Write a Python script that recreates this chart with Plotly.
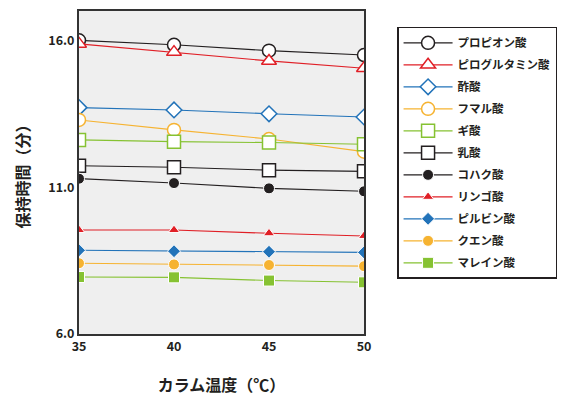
import plotly.graph_objects as go

temps = [35, 40, 45, 50]
names = ["プロピオン酸", "ピログルタミン酸", "酢酸", "フマル酸", "ギ酸", "乳酸",
         "コハク酸", "リンゴ酸", "ピルビン酸", "クエン酸", "マレイン酸"]
propionic = [16.0, 15.85, 15.65, 15.5]
pyroglutamic = [15.88, 15.6, 15.3, 15.05]
acetic = [13.71, 13.63, 13.5, 13.39]
fumaric = [13.29, 12.95, 12.64, 12.21]
formic = [12.61, 12.55, 12.52, 12.46]
lactic = [11.73, 11.68, 11.58, 11.54]
succinic = [11.29, 11.14, 10.96, 10.86]
malic = [9.54, 9.54, 9.43, 9.34]
pyruvic = [8.85, 8.82, 8.8, 8.78]
citric = [8.41, 8.37, 8.35, 8.31]
maleic = [7.94, 7.93, 7.82, 7.76]
series = [propionic, pyroglutamic, acetic, fumaric, formic, lactic,
          succinic, malic, pyruvic, citric, maleic]

BLACK = "#231f20"
RED = "#e01f26"
BLUE = "#2273b9"
ORANGE = "#f6b331"
GREEN = "#86c232"

styles = [
    (BLACK, "circle", 13, True),
    (RED, "triangle-up", 13, True),
    (BLUE, "diamond", 12, True),
    (ORANGE, "circle", 13, True),
    (GREEN, "square", 13, True),
    (BLACK, "square", 13, True),
    (BLACK, "circle", 11, False),
    (RED, "triangle-up", 10, False),
    (BLUE, "diamond", 10, False),
    (ORANGE, "circle", 11, False),
    (GREEN, "square", 11, False),
]

fig = go.Figure()
for i, (nm, vals, (col, sym, sz, hollow)) in enumerate(zip(names, series, styles)):
    if hollow:
        marker = dict(symbol=sym, size=sz, color="white", line=dict(color=col, width=1.5))
    else:
        marker = dict(symbol=sym, size=sz, color=col, line=dict(color="white", width=1))
    fig.add_trace(go.Scatter(
        x=temps, y=vals, name=nm, mode="lines+markers",
        line=dict(color=col, width=1.1), marker=marker,
        legendgroup=f"g{i}",
    ))

# page body has an 8px margin, so the figure is 8px smaller and offset
fig.update_layout(
    width=573, height=388,
    margin=dict(l=71, r=217, t=3, b=62),
    paper_bgcolor="white",
    plot_bgcolor="#efefef",
    font=dict(family="Noto Sans CJK JP", color="#231f20", size=12),
    showlegend=True,
    legend=dict(
        x=1.116, y=0.951, xanchor="left", yanchor="top",
        bordercolor="#231f20", borderwidth=1.5, bgcolor="white",
        font=dict(size=11.5, family="Noto Sans CJK JP", weight=600),
        tracegroupgap=3, itemwidth=49, entrywidth=158,
    ),
    xaxis=dict(
        range=[35, 50], tickvals=temps, ticktext=[str(t) for t in temps],
        showgrid=False, zeroline=False, showline=True, mirror=True,
        linecolor="#333333", linewidth=2, ticks="",
        tickfont=dict(size=12.5, weight=700),
        title=dict(text="カラム温度（℃）", font=dict(size=16, weight=700), standoff=26),
        automargin=False,
    ),
    yaxis=dict(
        range=[6, 17], tickvals=[6, 11, 16], ticktext=["6.0", "11.0", "16.0"],
        showgrid=False, zeroline=False, showline=True, mirror=True,
        linecolor="#333333", linewidth=2, ticks="",
        tickfont=dict(size=12.5, weight=700),
        title=dict(text="保持時間（分）", font=dict(size=16, weight=700), standoff=15),
        automargin=False,
    ),
)

fig.write_html("out.html")
